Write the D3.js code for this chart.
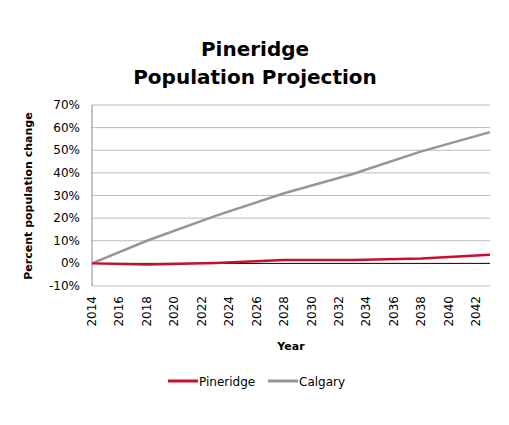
<!DOCTYPE html>
<html><head><meta charset="utf-8">
<script src="https://cdn.jsdelivr.net/npm/d3@7"></script>
<style>body{margin:0;background:#fff}text{font-family:"DejaVu Sans",sans-serif}</style>
</head><body><svg id="c" width="509" height="425"></svg>
<script>
const years=[2014,2018,2023,2028,2033,2038,2043];
const pineridge=[0,-0.5,0.2,1.5,1.5,2.2,3.8];
const calgary=[0,10,21,31,39.5,49.5,58];
const yTicks=[-10,0,10,20,30,40,50,60,70];
const xTicks=[2014,2016,2018,2020,2022,2024,2026,2028,2030,2032,2034,2036,2038,2040,2042];
const svg=d3.select("#c");
const x=d3.scaleLinear().domain([2014,2043]).range([92,490]);
const y=d3.scaleLinear().domain([-10,70]).range([286,105]);
svg.append("text").attr("x",255).attr("y",56).attr("text-anchor","middle").attr("font-size",20).attr("font-weight","bold").text("Pineridge");
svg.append("text").attr("x",255).attr("y",84).attr("text-anchor","middle").attr("font-size",20).attr("font-weight","bold").text("Population Projection");
svg.append("g").selectAll("line").data(yTicks.filter(d=>d!==0)).join("line")
 .attr("x1",92).attr("x2",490).attr("y1",d=>y(d)).attr("y2",d=>y(d)).attr("stroke","#bbb");
svg.append("line").attr("x1",92).attr("x2",92).attr("y1",105).attr("y2",286).attr("stroke","#888");
svg.append("line").attr("x1",92).attr("x2",490).attr("y1",y(0)).attr("y2",y(0)).attr("stroke","#000");
svg.append("g").selectAll("text").data(yTicks).join("text").attr("x",80).attr("y",d=>y(d)+4)
 .attr("text-anchor","end").attr("font-size",12).text(d=>d+"%");
svg.append("g").selectAll("text").data(xTicks).join("text")
 .attr("transform",d=>`translate(${x(d)+4},296) rotate(-90)`).attr("text-anchor","end").attr("font-size",12).text(d=>d);
svg.append("text").attr("transform","translate(32,196) rotate(-90)").attr("text-anchor","middle").attr("font-size",11).attr("font-weight","bold").text("Percent population change");
svg.append("text").attr("x",291).attr("y",350).attr("text-anchor","middle").attr("font-size",11).attr("font-weight","bold").text("Year");
const line=d3.line().x((d,i)=>x(years[i])).y(d=>y(d));
svg.append("path").datum(calgary).attr("d",line).attr("fill","none").attr("stroke","#969696").attr("stroke-width",2.5);
svg.append("path").datum(pineridge).attr("d",line).attr("fill","none").attr("stroke","#c8102e").attr("stroke-width",2.5);
const leg=[["Pineridge","#c8102e",168],["Calgary","#969696",268]];
leg.forEach(([n,c,lx])=>{
 svg.append("line").attr("x1",lx).attr("x2",lx+30).attr("y1",381).attr("y2",381).attr("stroke",c).attr("stroke-width",3);
 svg.append("text").attr("x",lx+31).attr("y",386).attr("font-size",12).text(n);
});
</script></body></html>
